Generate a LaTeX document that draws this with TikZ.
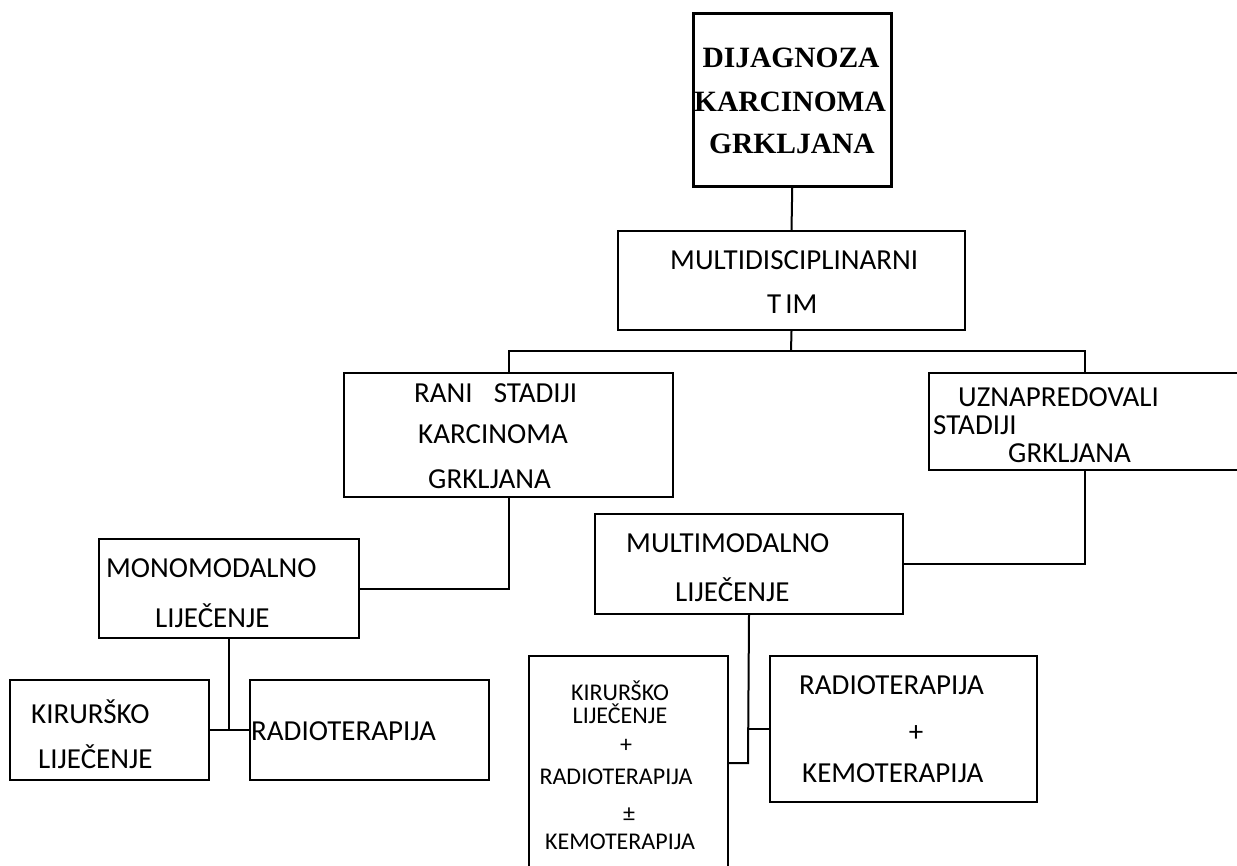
\documentclass[tikz,border=0pt]{standalone}
\usepackage{fontspec}
\setmainfont{Carlito}
\newfontfamily\tnr{Liberation Serif}
\begin{document}
\begin{tikzpicture}[x=1pt,y=-1pt,
  box/.style={draw=black,line width=2pt,rectangle,inner sep=0pt,anchor=north west},
  txt/.style={inner sep=0pt,font=\fontsize{29}{34}\selectfont},
  stxt/.style={inner sep=0pt,font=\fontsize{24}{29}\selectfont},
  ttl/.style={inner sep=0pt,font=\fontsize{29.5}{35}\selectfont\tnr\bfseries},
  conn/.style={draw=black,line width=2pt}]
\useasboundingbox (0,0) rectangle (1237,865);
% boxes
\node[box,line width=2.5pt,minimum width=198pt,minimum height=173pt] (dg) at (692,12) {};
\node[box,minimum width=347pt,minimum height=99pt] (mt) at (617,230) {};
\node[box,minimum width=329pt,minimum height=124pt] (rs) at (343,372) {};
\node[box,minimum width=312pt,minimum height=97pt] (us) at (928,372) {};
\node[box,minimum width=260pt,minimum height=99pt] (mono) at (98,538) {};
\node[box,minimum width=308pt,minimum height=100pt] (multi) at (594,513) {};
\node[box,minimum width=199pt,minimum height=100pt] (kir) at (9,679) {};
\node[box,minimum width=239pt,minimum height=100pt] (rad) at (249,679) {};
\node[box,minimum width=199pt,minimum height=240pt] (krk) at (528,655) {};
\node[box,minimum width=267pt,minimum height=146pt] (rk) at (769,655) {};
% texts
\node[ttl,anchor=base] (dg1) at (791,67) {DIJAGNOZA};
\node[ttl,anchor=base] (dg2) at (790,111) {KARCINOMA};
\node[ttl,anchor=base] (dg3) at (792,153) {GRKLJANA};
\node[txt,anchor=base west] (mt1) at (670,269) {MULTIDISCIPLINARNI};
\node[txt,anchor=base west] (mt2) at (767,313) {T\hspace{4pt}IM};
\node[txt,anchor=base west] (rs1) at (414,402) {RANI\hspace*{21pt}STADIJI};
\node[txt,anchor=base west] (rs2) at (418,443) {KARCINOMA};
\node[txt,anchor=base west] (rs3) at (428,488) {GRKLJANA};
\node[txt,anchor=base west] (us1) at (958,406) {UZNAPREDOVALI};
\node[txt,anchor=base west] (us2) at (933,434) {STADIJI};
\node[txt,anchor=base west] (us3) at (1008,462) {GRKLJANA};
\node[txt,anchor=base west] (mono1) at (106,577) {MONOMODALNO};
\node[txt,anchor=base west] (mono2) at (155,627) {LIJEČENJE};
\node[txt,anchor=base west] (kir1) at (31,723) {KIRURŠKO};
\node[txt,anchor=base west] (kir2) at (38,768) {LIJEČENJE};
\node[txt,anchor=base west] (rad1) at (251,740) {RADIOTERAPIJA};
\node[txt,anchor=base west] (multi1) at (626,552) {MULTIMODALNO};
\node[txt,anchor=base west] (multi2) at (675,601) {LIJEČENJE};
\node[stxt,anchor=base] (krk1) at (620,700) {KIRURŠKO};
\node[stxt,anchor=base] (krk2) at (620,723) {LIJEČENJE};
\node[stxt,anchor=base] (krk3) at (626,752) {+};
\node[stxt,anchor=base] (krk4) at (616,784) {RADIOTERAPIJA};
\node[stxt,anchor=base] (krk5) at (629,821) {±};
\node[stxt,anchor=base] (krk6) at (620,849) {KEMOTERAPIJA};
\node[txt,anchor=base west] (rk1) at (799,694) {RADIOTERAPIJA};
\node[txt,anchor=base] (rk2) at (916,741) {+};
\node[txt,anchor=base west] (rk3) at (802,782) {KEMOTERAPIJA};
% connectors
\coordinate (j1) at (791,351);
\coordinate (j3) at (748,763);
\draw[conn] (dg.south) -- (mt.north);
\draw[conn] (mt.south) -- (j1);
\draw[conn] (rs.north) |- (j1) -| (us.north);
\draw[conn] (rs.south) |- (mono.east);
\draw[conn] (us.south) |- (multi.east);
\draw[conn] (mono.south) -- (mono.south |- kir.east);
\draw[conn] (kir.east) -- (rad.west);
\draw[conn] (multi.south) -- (j3) -- (j3 -| krk.east);
\draw[conn] (rk.west) -- (rk.west -| j3);
\end{tikzpicture}
\end{document}
